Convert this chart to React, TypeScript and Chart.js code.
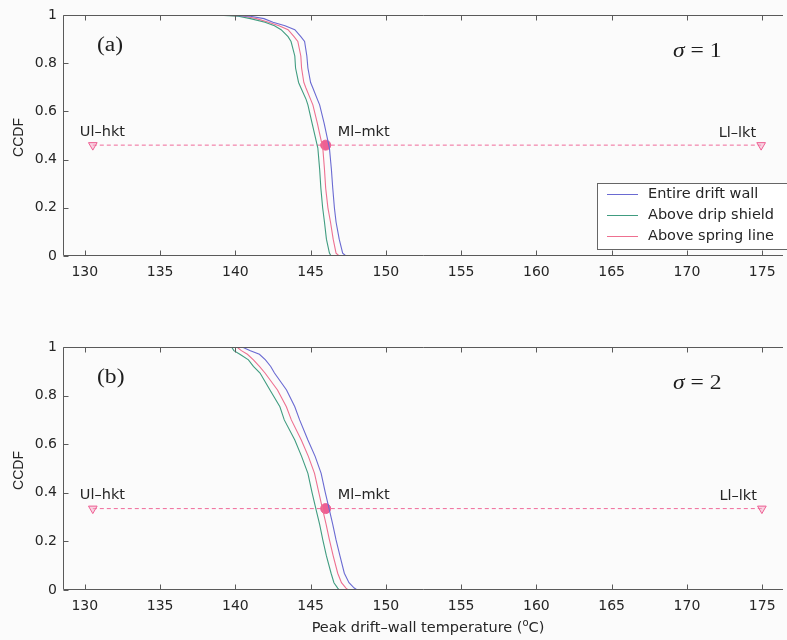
import React, { useEffect, useRef } from "react";
import { Chart, registerables } from "chart.js";
Chart.register(...registerables);

// ---------- data ----------
const seriesNames = ["Entire drift wall", "Above drip shield", "Above spring line"];
const seriesColors = ["#6a6ad2", "#409c80", "#ee7090"];

const xTicks = [130, 135, 140, 145, 150, 155, 160, 165, 170, 175];
const yTicks = [0, 0.2, 0.4, 0.6, 0.8, 1];

// panel (a), sigma = 1
const ccdfTop = [1.0, 0.995, 0.985, 0.97, 0.955, 0.939, 0.91, 0.89, 0.83, 0.78, 0.72, 0.697, 0.65, 0.627, 0.55, 0.448, 0.36, 0.282, 0.2, 0.141, 0.07, 0.012, 0.0];
const topEntire = [139.3, 141.0, 141.9, 142.5, 143.3, 143.95, 144.35, 144.6, 144.75, 144.82, 145.0, 145.15, 145.45, 145.6, 145.9, 146.25, 146.38, 146.47, 146.58, 146.69, 146.9, 147.13, 147.35];
const topDrip = [138.6, 140.2, 141.0, 141.97, 142.6, 143.04, 143.5, 143.7, 143.95, 144.0, 144.2, 144.36, 144.7, 144.82, 145.1, 145.48, 145.6, 145.68, 145.8, 145.92, 146.05, 146.25, 146.36];
const topSpring = [138.9, 140.6, 141.4, 142.2, 142.9, 143.5, 143.9, 144.15, 144.35, 144.4, 144.55, 144.69, 145.0, 145.15, 145.45, 145.81, 145.92, 146.0, 146.15, 146.32, 146.5, 146.69, 146.9];

// panel (b), sigma = 2
const ccdfBottom = [1.0, 0.985, 0.97, 0.947, 0.92, 0.893, 0.823, 0.754, 0.7, 0.617, 0.55, 0.48, 0.4, 0.329, 0.27, 0.206, 0.14, 0.069, 0.03, 0.008, 0.0];
const bottomEntire = [140.45, 141.0, 141.6, 142.0, 142.35, 142.6, 143.4, 143.95, 144.27, 144.82, 145.3, 145.7, 145.98, 146.25, 146.47, 146.69, 146.95, 147.24, 147.55, 147.9, 148.1];
const bottomDrip = [139.75, 139.9, 140.3, 140.87, 141.2, 141.64, 142.3, 142.96, 143.25, 143.95, 144.4, 144.82, 145.1, 145.37, 145.6, 145.81, 146.05, 146.36, 146.55, 146.8, 146.9];
const bottomSpring = [140.1, 140.4, 140.8, 141.2, 141.6, 141.97, 142.8, 143.39, 143.72, 144.38, 144.85, 145.26, 145.55, 145.81, 146.03, 146.25, 146.5, 146.8, 147.05, 147.35, 147.5];

const markerLabels = ["Ul\u2013hkt", "Ml\u2013mkt", "Ll\u2013lkt"];
const markerTempsTop = [130.53, 146.0, 174.93];
const markerCcdfTop = 0.46;
const markerTempsBottom = [130.53, 146.0, 174.98];
const markerCcdfBottom = 0.335;

const X_MIN = 128.55;
const X_MAX = 176.25;

const SANS = "'DejaVu Sans', 'Liberation Sans', Arial, sans-serif";
const ARIAL = "'Liberation Sans', Arial, sans-serif";
const SERIF = "'Liberation Serif', 'Times New Roman', serif";
const TEXT = "#262626";

type Panel = {
  canvasTop: number;
  height: number;
  padTop: number;
  xAxisHeight: number;
  ccdf: number[];
  series: number[][];
  markerTemps: number[];
  markerCcdf: number;
  panelLabel: string;
  sigma: string;
  legend: boolean;
  xTitle: boolean;
};

const panels: Panel[] = [
  {
    canvasTop: 0, height: 300, padTop: 15, xAxisHeight: 44,
    ccdf: ccdfTop, series: [topEntire, topDrip, topSpring],
    markerTemps: markerTempsTop, markerCcdf: markerCcdfTop,
    panelLabel: "(a)", sigma: "1", legend: true, xTitle: false,
  },
  {
    canvasTop: 300, height: 340, padTop: 47, xAxisHeight: 50,
    ccdf: ccdfBottom, series: [bottomEntire, bottomDrip, bottomSpring],
    markerTemps: markerTempsBottom, markerCcdf: markerCcdfBottom,
    panelLabel: "(b)", sigma: "2", legend: false, xTitle: true,
  },
];

const HS = 1.18; // horizontal stretch of the scanned figure's serif text

function makeDecor(p: Panel) {
  return {
    id: "decor",
    afterDatasetsDraw(chart: any) {
      const { ctx, chartArea: a, scales } = chart;
      const xs = scales.x, ys = scales.y;
      const L = Math.round(a.left) + 0.5;
      const T = Math.round(a.top) + 0.5;
      const B = Math.round(a.bottom) - 0.5;
      ctx.save();
      ctx.strokeStyle = "#5a5a5a";
      ctx.lineWidth = 1;
      ctx.beginPath();
      ctx.moveTo(a.right + 2, T);
      ctx.lineTo(L, T);
      ctx.lineTo(L, B);
      ctx.lineTo(a.right + 2, B);
      ctx.stroke();
      // inward ticks
      ctx.beginPath();
      for (const v of xTicks) {
        const px = Math.round(xs.getPixelForValue(v)) + 0.5;
        ctx.moveTo(px, B); ctx.lineTo(px, B - 5);
        ctx.moveTo(px, T); ctx.lineTo(px, T + 5);
      }
      for (const v of yTicks) {
        const py = Math.round(ys.getPixelForValue(v)) + 0.5;
        ctx.moveTo(L, py); ctx.lineTo(L + 5, py);
      }
      ctx.stroke();

      // y title
      ctx.fillStyle = TEXT;
      ctx.font = `14px ${ARIAL}`;
      ctx.save();
      ctx.translate(19, (a.top + a.bottom) / 2 + 2);
      ctx.rotate(-Math.PI / 2);
      ctx.textAlign = "center";
      ctx.textBaseline = "middle";
      ctx.fillText("CCDF", 0, 0);
      ctx.restore();

      // panel label and sigma (serif, stretched horizontally)
      ctx.fillStyle = "#1e1e1e";
      ctx.textAlign = "left";
      ctx.textBaseline = "middle";
      ctx.save();
      ctx.translate(97, a.top + 31);
      ctx.scale(HS, 1);
      ctx.font = `20px ${SERIF}`;
      ctx.fillText(p.panelLabel, 0, 0);
      ctx.restore();

      ctx.save();
      ctx.translate(673, a.top + 37);
      ctx.scale(HS, 1);
      ctx.font = `italic 20px ${SERIF}`;
      ctx.fillText("\u03c3", 0, 0);
      const w = ctx.measureText("\u03c3").width;
      ctx.font = `20px ${SERIF}`;
      ctx.fillText(" = " + p.sigma, w, 0);
      ctx.restore();

      // marker labels
      ctx.font = `14.5px ${SANS}`;
      ctx.fillStyle = TEXT;
      const my = ys.getPixelForValue(p.markerCcdf);
      const m0 = xs.getPixelForValue(p.markerTemps[0]);
      const m1 = xs.getPixelForValue(p.markerTemps[1]);
      const m2 = xs.getPixelForValue(p.markerTemps[2]);
      ctx.textAlign = "left";
      ctx.fillText(markerLabels[0], m0 - 13, my - 13);
      ctx.fillText(markerLabels[1], m1 + 12, my - 13);
      ctx.textAlign = "right";
      ctx.fillText(markerLabels[2], m2 - 5, my - 12);

      // legend
      if (p.legend) {
        const bx = 597.5, by = 183.5, bw = 200, bh = 66;
        ctx.fillStyle = "#fff";
        ctx.fillRect(bx, by, bw, bh);
        ctx.strokeStyle = "#666";
        ctx.strokeRect(bx, by, bw, bh);
        ctx.textAlign = "left";
        ctx.textBaseline = "middle";
        ctx.font = `14.5px ${SANS}`;
        for (let i = 0; i < seriesNames.length; i++) {
          const ly = 194 + i * 21;
          ctx.strokeStyle = seriesColors[i];
          ctx.beginPath();
          ctx.moveTo(607, ly + 0.5);
          ctx.lineTo(638, ly + 0.5);
          ctx.stroke();
          ctx.fillStyle = TEXT;
          ctx.fillText(seriesNames[i], 648, ly);
        }
      }

      // x title
      if (p.xTitle) {
        ctx.fillStyle = TEXT;
        ctx.textBaseline = "middle";
        ctx.textAlign = "left";
        const t1 = "Peak drift\u2013wall temperature (";
        const t2 = "o";
        const t3 = "C)";
        ctx.font = `14.5px ${SANS}`;
        const w1 = ctx.measureText(t1).width;
        const w3 = ctx.measureText(t3).width;
        ctx.font = `10px ${SANS}`;
        const w2 = ctx.measureText(t2).width;
        const total = w1 + w2 + w3;
        const cx = 428;
        const ty = 328;
        const x0 = cx - total / 2;
        ctx.font = `14.5px ${SANS}`;
        ctx.fillText(t1, x0, ty);
        ctx.font = `10px ${SANS}`;
        ctx.fillText(t2, x0 + w1, ty - 5);
        ctx.font = `14.5px ${SANS}`;
        ctx.fillText(t3, x0 + w1 + w2, ty);
      }
      ctx.restore();
    },
  };
}

function PanelChart({ p }: { p: Panel }) {
  const ref = useRef<HTMLCanvasElement | null>(null);
  useEffect(() => {
    if (!ref.current) return;
    const datasets: any[] = p.series.map((s, i) => ({
      label: seriesNames[i],
      data: s.map((t, k) => ({ x: t, y: p.ccdf[k] })),
      borderColor: seriesColors[i],
      borderWidth: 1.1,
      pointRadius: 0,
      fill: false,
      tension: 0,
    }));
    datasets.push({
      label: "markers",
      data: p.markerTemps.map((t) => ({ x: t, y: p.markerCcdf })),
      borderColor: "#f06a9a",
      borderWidth: 1,
      borderDash: [4, 3],
      pointStyle: ["triangle", "circle", "triangle"],
      rotation: [180, 0, 180],
      pointRadius: [5, 5, 5],
      pointBorderColor: "#ee5f93",
      pointBackgroundColor: ["rgba(245,170,200,0.5)", "#ee5f93", "rgba(245,170,200,0.5)"],
      pointBorderWidth: 1,
      fill: false,
    });
    const chart = new Chart(ref.current, {
      type: "line",
      data: { datasets },
      options: {
        animation: false,
        responsive: false,
        devicePixelRatio: 1,
        layout: { padding: { top: p.padTop, left: 0, right: 0, bottom: 0 } },
        plugins: { legend: { display: false }, tooltip: { enabled: false } },
        scales: {
          x: {
            type: "linear",
            min: X_MIN,
            max: X_MAX,
            grid: { display: false, drawTicks: false },
            border: { display: false },
            afterBuildTicks: (s: any) => { s.ticks = xTicks.map((v) => ({ value: v })); },
            afterFit: (s: any) => { s.height = p.xAxisHeight; },
            ticks: {
              padding: 8,
              color: TEXT,
              font: { family: SANS, size: 14 },
              maxRotation: 0,
              autoSkip: false,
              callback: (v: any) => String(v),
            },
          },
          y: {
            type: "linear",
            min: 0,
            max: 1,
            grid: { display: false, drawTicks: false },
            border: { display: false },
            afterBuildTicks: (s: any) => { s.ticks = yTicks.map((v) => ({ value: v })); },
            afterFit: (s: any) => { s.width = 63; },
            ticks: {
              padding: 6,
              color: TEXT,
              font: { family: SANS, size: 14 },
              autoSkip: false,
              callback: (v: any) => String(Number(Number(v).toFixed(1))),
            },
          },
        },
      },
      plugins: [makeDecor(p)],
    });
    return () => chart.destroy();
  }, []);
  return (
    <canvas
      ref={ref}
      width={787}
      height={p.height}
      style={{ position: "absolute", left: 0, top: p.canvasTop, width: 787, height: p.height }}
    />
  );
}

export default function App() {
  return (
    <div style={{ position: "fixed", left: 0, top: 0, width: 787, height: 640, background: "#fbfbfb", overflow: "hidden" }}>
      {panels.map((p, i) => (
        <PanelChart key={i} p={p} />
      ))}
    </div>
  );
}
